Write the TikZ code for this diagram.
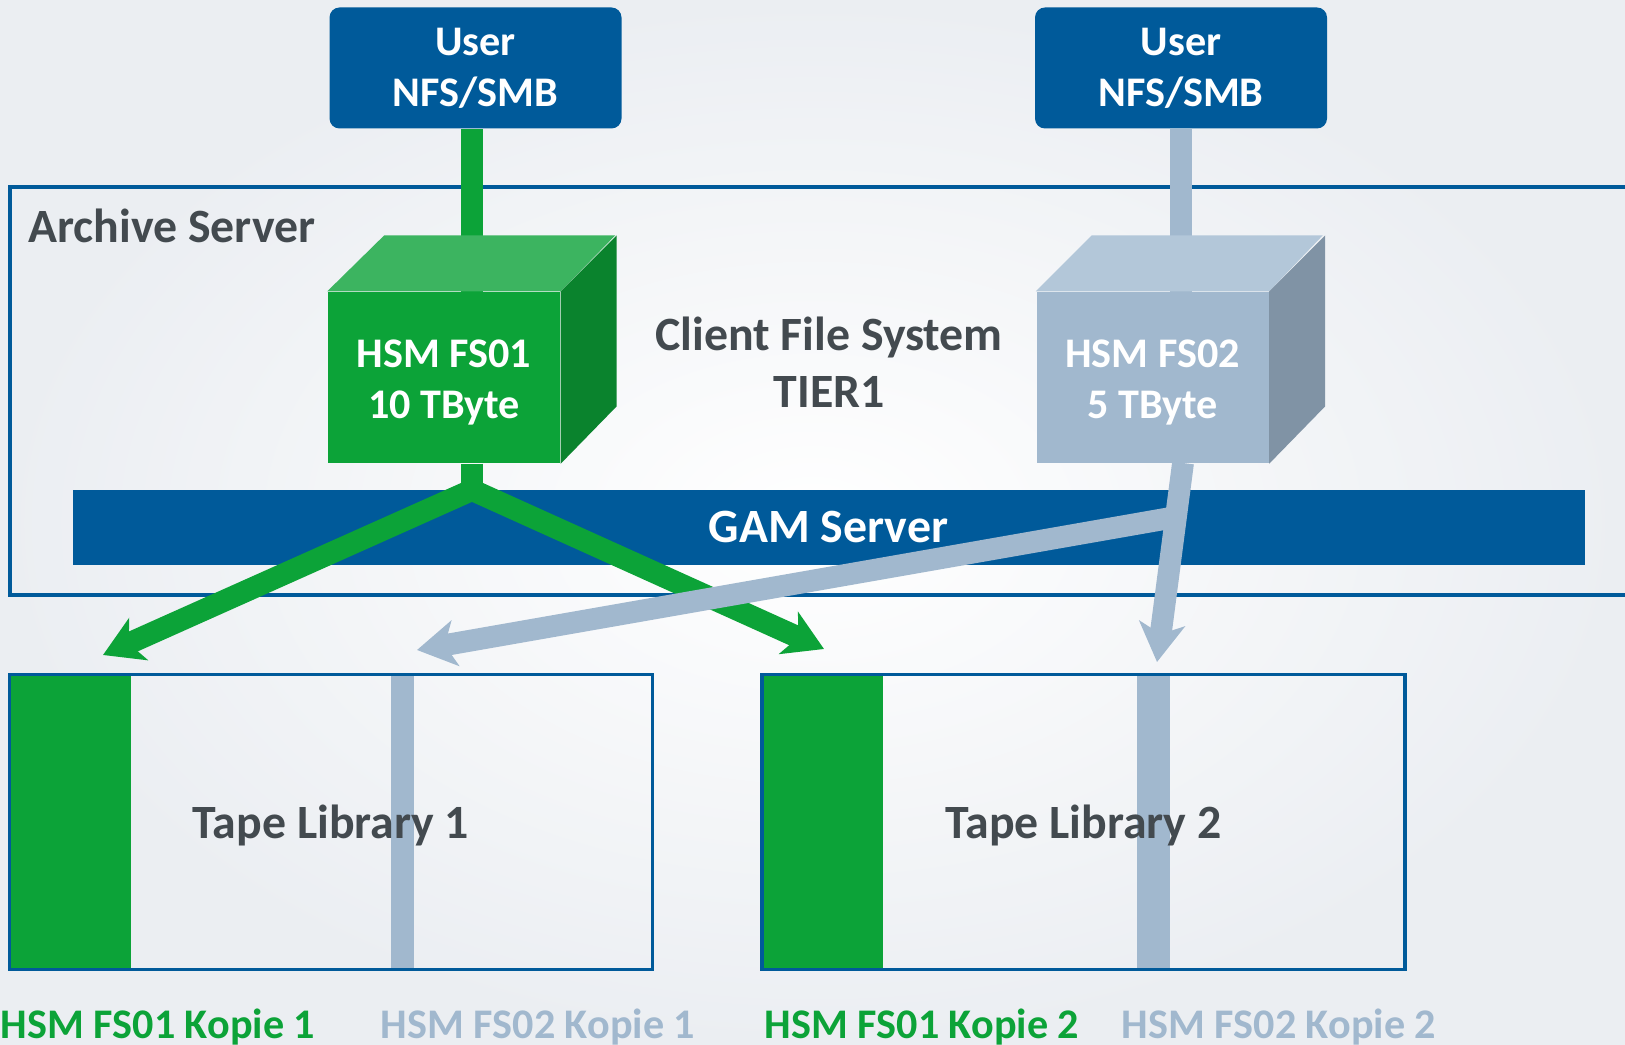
\documentclass[tikz,border=0pt]{standalone}
\usepackage{fontspec}
\setmainfont{Carlito}
\usetikzlibrary{arrows.meta,calc}

\definecolor{sblue}{RGB}{0,90,154}
\definecolor{fsgreen}{RGB}{12,163,56}
\definecolor{fsgreentop}{RGB}{60,180,96}
\definecolor{fsgreenside}{RGB}{10,131,45}
\definecolor{fsgrey}{RGB}{161,184,206}
\definecolor{fsgreytop}{RGB}{179,199,217}
\definecolor{fsgreyside}{RGB}{128,147,165}
\definecolor{txtgrey}{RGB}{67,74,79}
\definecolor{bgedge}{RGB}{235,238,242}

\begin{document}
\begin{tikzpicture}[x=0.1mm,y=-0.1mm,
   userbox/.style={rectangle,rounded corners=0.1cm,fill=sblue,text=white,
    minimum width=2.92cm,minimum height=1.21cm,inner sep=0,align=center,
    font=\fontsize{12}{14.5}\selectfont\bfseries},
   cube/.style={rectangle,inner sep=0,minimum width=2.32cm,
    minimum height=1.71cm},
   cubetext/.style={text=white,align=center,yshift=-1.4pt,
    font=\fontsize{12}{14.5}\selectfont\bfseries},
   tapebox/.style={rectangle,inner sep=0,minimum width=6.415cm,
    minimum height=2.94cm},
   darktext/.style={text=txtgrey,align=center,
    font=\fontsize{13.6}{16.2}\selectfont\bfseries},
   copytext/.style={font=\fontsize{12}{14.5}\selectfont\bfseries},
   flow/.style={line width=6.2pt},
   headed/.style={-{Stealth[length=11pt,width=13pt,inset=3pt]}}
    ]

    \clip (0,0) rectangle (1625,1045);
    \shade[inner color=white,outer color=bgedge] (0,0) rectangle (1625,1045);

    % Archive server frame:
    \draw[sblue,line width=1.15pt] (10,187) rectangle (1700,595);
    \node[darktext,anchor=west] at (16,226) (archive) {Archive Server};
    \node[darktext] at (829,362) (tier) {Client File System\\TIER1};
    \node[fill=sblue,minimum width=15.12cm,minimum height=0.75cm,
      inner sep=0] at (828.5,527.5) (gam) {};

    % Users:
    \node[userbox] at (475.5,68) (user1) {User\\NFS/SMB};
    \node[userbox] at (1181,68) (user2) {User\\NFS/SMB};

    % hubs and tips
    \coordinate (hub1) at (472,490);
    \coordinate (hub2) at (1176,517);
    \coordinate (out2) at (1183,463);
    \coordinate (tipa) at (103,655);
    \coordinate (tipb) at (824,649);
    \coordinate (tipc) at (417,650);
    \coordinate (tipd) at (1157,662);

    % stems behind the cubes
    \draw[flow,fsgreen] (user1.south -| hub1) -- (hub1 |- 0,300);
    \draw[flow,fsgrey] (user2.south) -- (user2.south |- 0,300);

    % Cubes:
    \node[cube,fill=fsgreen,label={[cubetext]center:{HSM FS01\\10 TByte}}]
      at (444,377.5) (fs1) {};
    \fill[fsgreentop] (fs1.north west) -- ++(57,-56) -- ++(231,0)
      -- (fs1.north east) -- cycle;
    \fill[fsgreenside] (fs1.north east) -- ++(56,-56) -- ++(0,171)
      -- (fs1.south east) -- cycle;

    \node[cube,fill=fsgrey,label={[cubetext]center:{HSM FS02\\5 TByte}}]
      at (1152.5,377.5) (fs2) {};
    \fill[fsgreytop] (fs2.north west) -- ++(56,-56) -- ++(231,0)
      -- (fs2.north east) -- cycle;
    \fill[fsgreyside] (fs2.north east) -- ++(56,-56) -- ++(0,171)
      -- (fs2.south east) -- cycle;

    % arrows
    \draw[flow,fsgreen] (hub1 |- fs1.south) -- (hub1);
    \draw[flow,fsgreen,headed] (hub1) -- (tipa);
    \draw[flow,fsgreen,headed] (hub1) -- (tipb);
    \draw[flow,fsgrey,headed] (hub2) -- (tipc);
    \draw[flow,fsgrey,headed] (out2) -- (tipd);

    \node[text=white,font=\fontsize{13.6}{16}\selectfont\bfseries]
      at (gam) (gamtext) {GAM Server};

    % Tape libraries:
    \node[tapebox] at (331,822) (lib1) {};
    \node[tapebox] at (1083.5,822) (lib2) {};
    \fill[fsgreen] (lib1.north west) rectangle ($(lib1.south west)+(121,0)$);
    \fill[fsgreen] (lib2.north west) rectangle ($(lib2.south west)+(121,0)$);
    \fill[fsgrey] ($(lib1.north west)+(381,0)$)
      rectangle ($(lib1.south west)+(404,0)$);
    \fill[fsgrey] ($(lib2.north west)+(375,0)$)
      rectangle ($(lib2.south west)+(408,0)$);
    \draw[sblue,line width=1pt] (lib1.north west) rectangle (lib1.south east);
    \draw[sblue,line width=1pt] (lib2.north west) rectangle (lib2.south east);
    \node[darktext,yshift=-0.9pt] at (lib1) (lib1text) {Tape Library 1};
    \node[darktext,yshift=-0.9pt] at (lib2) (lib2text) {Tape Library 2};

    % copies
    \node[copytext,text=fsgreen] at (158,1027) (copy1a) {HSM FS01 Kopie 1};
    \node[copytext,text=fsgrey] at (538,1027) (copy2a) {HSM FS02 Kopie 1};
    \node[copytext,text=fsgreen] at (922,1027) (copy1b) {HSM FS01 Kopie 2};
    \node[copytext,text=fsgrey] at (1279,1027) (copy2b) {HSM FS02 Kopie 2};

\end{tikzpicture}
\end{document}
